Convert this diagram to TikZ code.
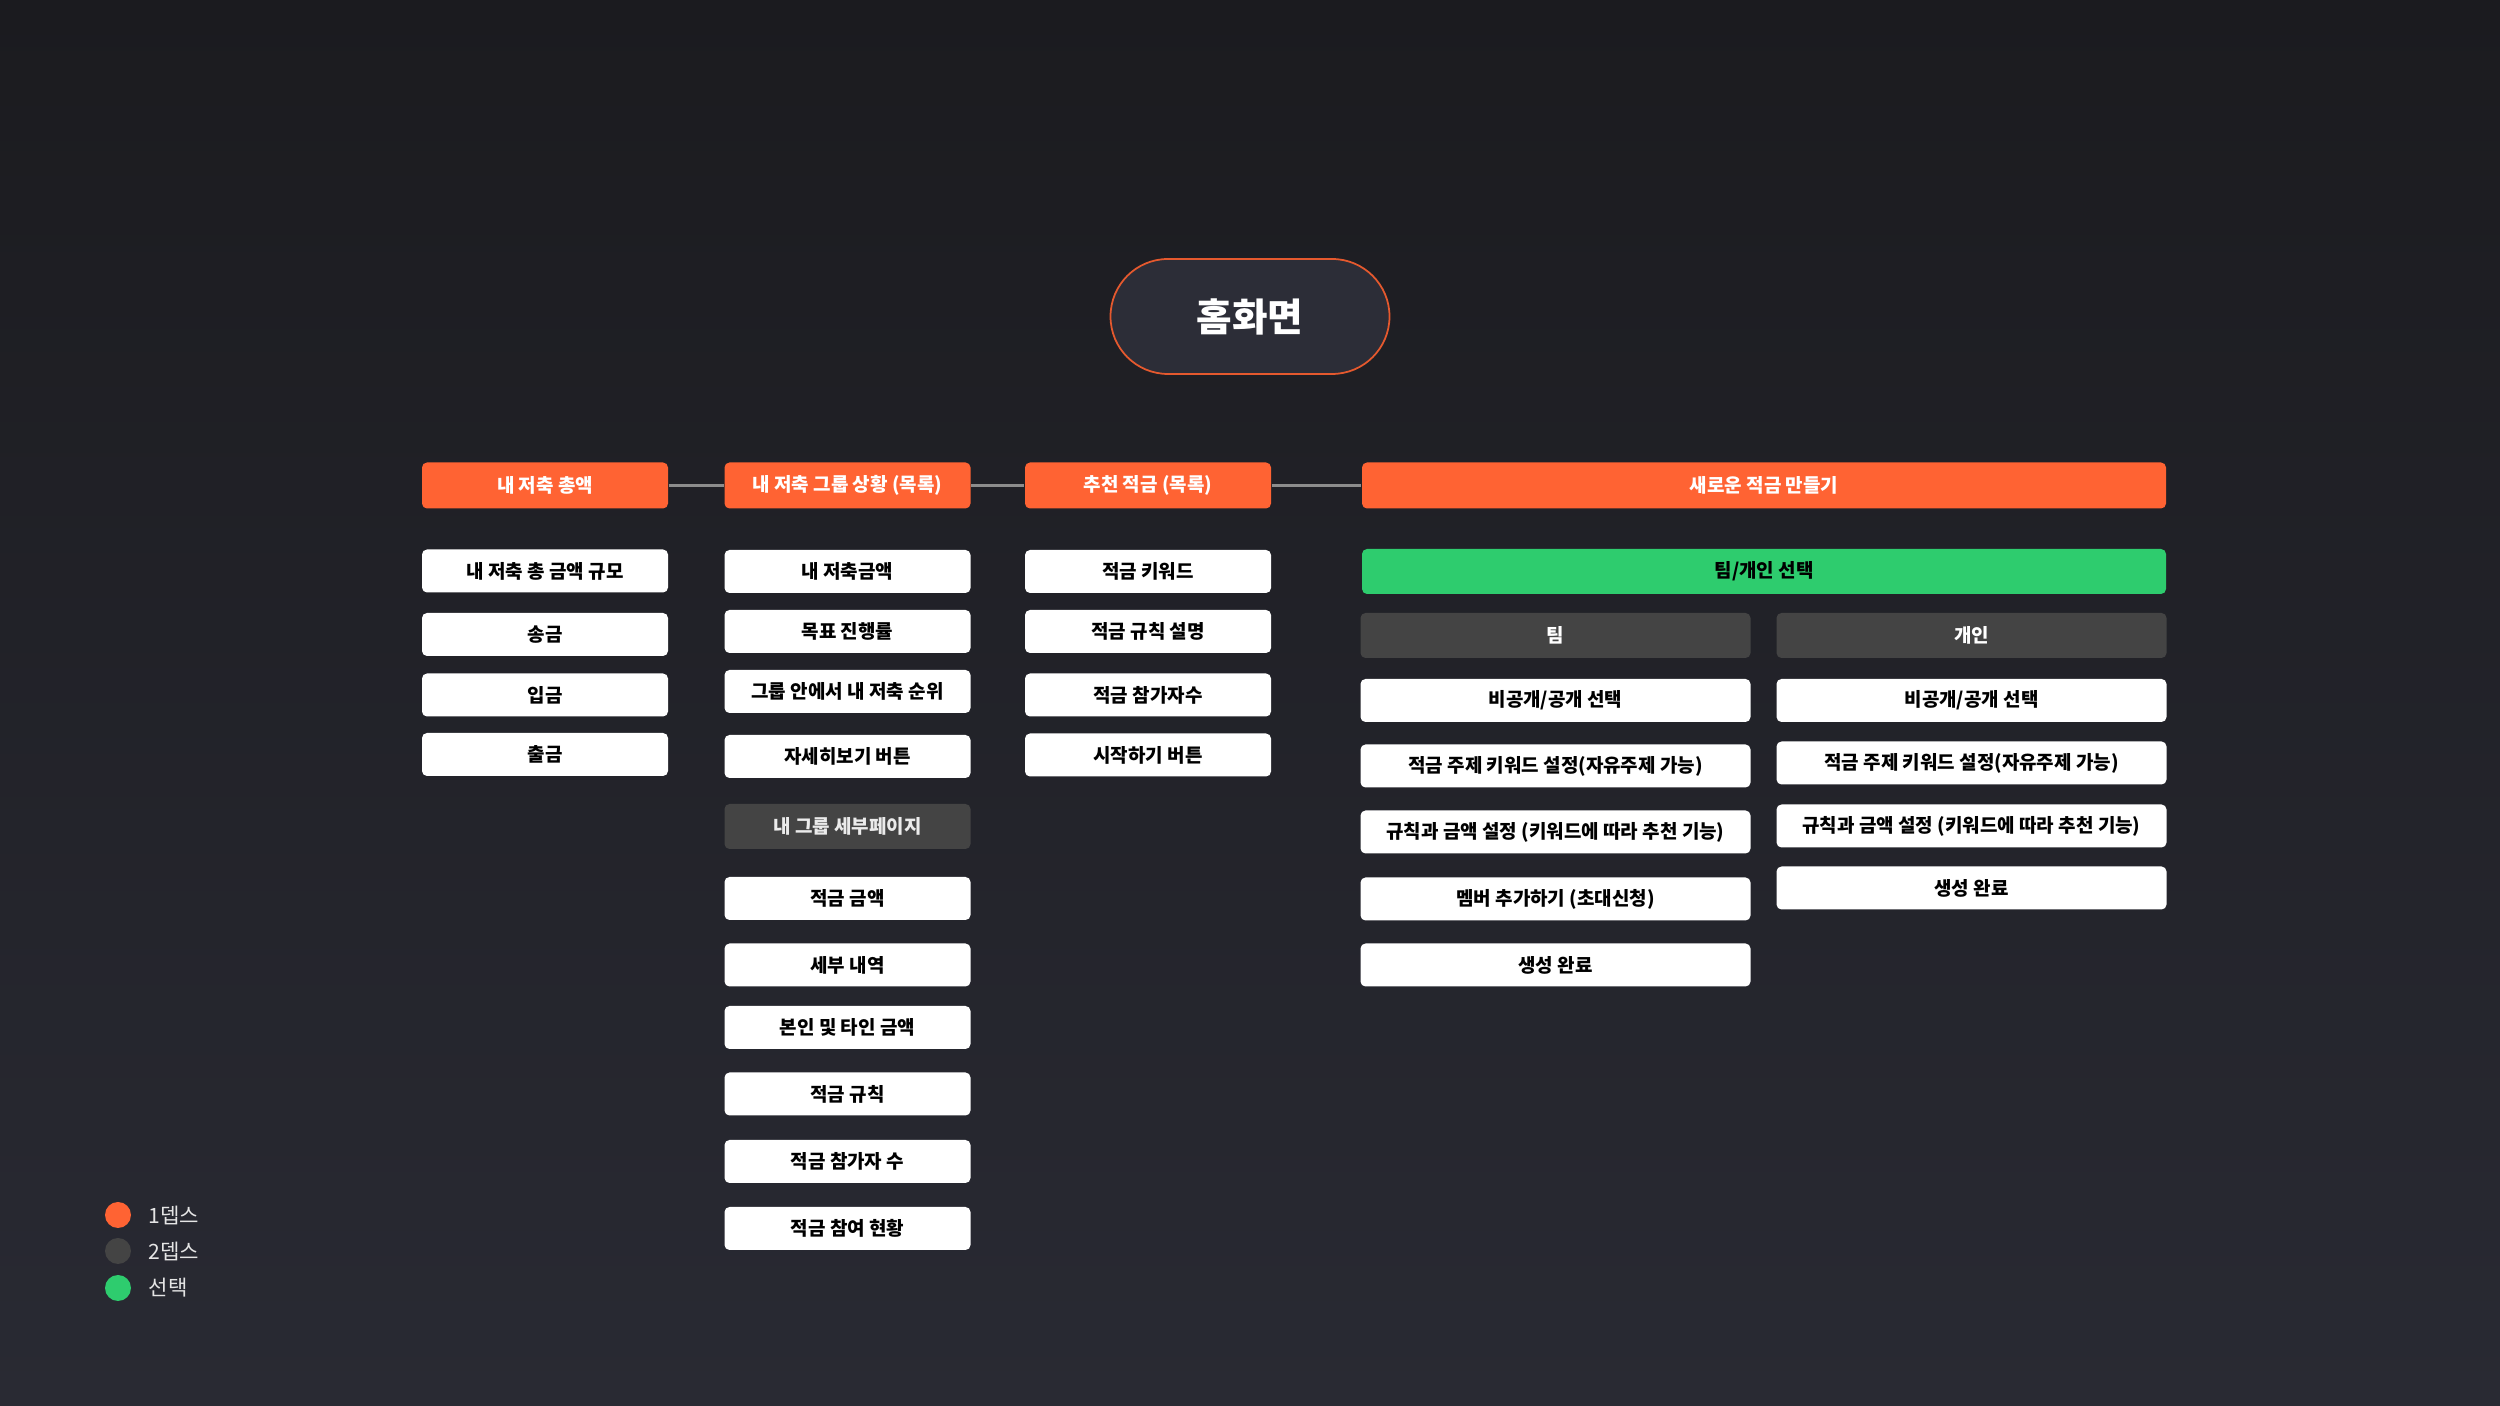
\documentclass[tikz,border=0pt]{standalone}
\usepackage{fontspec}
\setmainfont{Noto Sans CJK KR}
\definecolor{bgtop}{HTML}{1B1B1F}
\definecolor{bgbot}{HTML}{292A33}
\definecolor{homefill}{HTML}{2C2D37}
\definecolor{depthorange}{HTML}{FF6333}
\definecolor{depthgray}{HTML}{444444}
\definecolor{pickgreen}{HTML}{2ECC6E}
\definecolor{linkgray}{HTML}{8C8C8C}

\begin{document}
\begin{tikzpicture}[
  box/.style={rectangle, rounded corners=0.05cm, inner sep=0pt, minimum width=2.46cm,
    minimum height=0.43cm, font=\fontsize{5.4}{6}\selectfont\bfseries},
  depthone/.style={box, fill=depthorange, text=white, minimum height=0.46cm},
  depthtwo/.style={box, fill=depthgray, text=white!92!black, minimum height=0.45cm},
  pick/.style={box, fill=pickgreen, text=black, minimum height=0.45cm},
  leaf/.style={box, fill=white, text=black},
  halfw/.style={minimum width=3.9cm},
  fullw/.style={minimum width=8.04cm},
  home/.style={rectangle, rounded corners=0.575cm, minimum width=2.79cm, minimum height=1.15cm,
    fill=homefill, draw=depthorange!90!black, line width=0.5pt, text=white,
    font=\fontsize{11}{12}\selectfont\bfseries},
  link/.style={draw=linkgray, line width=0.6pt},
  legenddot/.style={circle, inner sep=0pt, minimum size=0.26cm},
  legendtext/.style={anchor=west, inner sep=0pt, text=white!90!black, font=\fontsize{6}{7}\selectfont}
]
  \shade[top color=bgtop, bottom color=bgbot] (0,0) rectangle (25,14.06);
  \useasboundingbox (0,0) rectangle (25,14.06);

  \node[home] (main) at (12.50, 10.895) {홈화면};

  \node[depthone] (total)     at (5.45, 9.205)  {내 저축 총액};
  \node[depthone] (mygroup)   at (8.475, 9.205) {내 저축 그룹 상황 (목록)};
  \node[depthone] (recommend) at (11.48, 9.205) {추천 적금 (목록)};
  \node[depthone, fullw] (create) at (17.64, 9.205) {새로운 적금 만들기};

  \draw[link] (total) -- (mygroup);
  \draw[link] (mygroup) -- (recommend);
  \draw[link] (recommend) -- (create);

  \node[leaf] (totalsize) at (5.45, 8.35)  {내 저축 총 금액 규모};
  \node[leaf] (send)      at (5.45, 7.715) {송금};
  \node[leaf] (deposit)   at (5.45, 7.11)  {입금};
  \node[leaf] (withdraw)  at (5.45, 6.515) {출금};

  \node[leaf] (myamount)   at (8.475, 8.345) {내 저축금액};
  \node[leaf] (goal)       at (8.475, 7.745) {목표 진행률};
  \node[leaf] (rank)       at (8.475, 7.145) {그룹 안에서 내 저축 순위};
  \node[leaf] (morebtn)    at (8.475, 6.495) {자세히보기 버튼};
  \node[depthtwo] (detail) at (8.475, 5.795) {내 그룹 세부페이지};
  \node[leaf] (amount)     at (8.475, 5.075) {적금 금액};
  \node[leaf] (history)    at (8.475, 4.41)  {세부 내역};
  \node[leaf] (others)     at (8.475, 3.785) {본인 및 타인 금액};
  \node[leaf] (rule)       at (8.475, 3.12)  {적금 규칙};
  \node[leaf] (members)    at (8.475, 2.445) {적금 참가자 수};
  \node[leaf] (status)     at (8.475, 1.775) {적금 참여 현황};

  \node[leaf] (keyword)  at (11.48, 8.345) {적금 키워드};
  \node[leaf] (ruleinfo) at (11.48, 7.745) {적금 규칙 설명};
  \node[leaf] (joiners)  at (11.48, 7.11)  {적금 참가자수};
  \node[leaf] (startbtn) at (11.48, 6.51)  {시작하기 버튼};

  \node[pick, fullw] (choose) at (17.64, 8.345) {팀/개인 선택};
  \node[depthtwo, halfw, text=white] (team) at (15.555, 7.705) {팀};
  \node[depthtwo, halfw, text=white] (solo) at (19.715, 7.705) {개인};

  \node[leaf, halfw] (teamopen)   at (15.555, 7.055) {비공개/공개 선택};
  \node[leaf, halfw] (teamtopic)  at (15.555, 6.40)  {적금 주제 키워드 설정(자유주제 가능)};
  \node[leaf, halfw] (teamrule)   at (15.555, 5.74)  {규칙과 금액 설정 (키워드에 따라 추천 기능)};
  \node[leaf, halfw] (teaminvite) at (15.555, 5.07)  {멤버 추가하기 (초대신청)};
  \node[leaf, halfw] (teamdone)   at (15.555, 4.41)  {생성 완료};

  \node[leaf, halfw] (soloopen)  at (19.715, 7.055) {비공개/공개 선택};
  \node[leaf, halfw] (solotopic) at (19.715, 6.43)  {적금 주제 키워드 설정(자유주제 가능)};
  \node[leaf, halfw] (solorule)  at (19.715, 5.80)  {규칙과 금액 설정 (키워드에 따라 추천 기능)};
  \node[leaf, halfw] (solodone)  at (19.715, 5.18)  {생성 완료};

  \node[legenddot, fill=depthorange] (dotone)  at (1.18, 1.91) {};
  \node[legenddot, fill=depthgray]   (dottwo)  at (1.18, 1.55) {};
  \node[legenddot, fill=pickgreen]   (dotpick) at (1.18, 1.18) {};
  \node[legendtext] (keyone)  at (1.48, 1.91) {1뎁스};
  \node[legendtext] (keytwo)  at (1.48, 1.55) {2뎁스};
  \node[legendtext] (keypick) at (1.48, 1.18) {선택};
\end{tikzpicture}
\end{document}
